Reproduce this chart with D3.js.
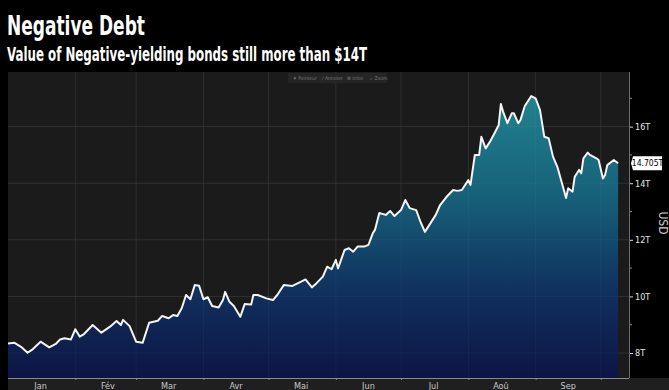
<!DOCTYPE html>
<html>
<head>
<meta charset="utf-8">
<script src="https://cdn.jsdelivr.net/npm/d3@7"></script>
<style>
  html, body { margin: 0; padding: 0; background: #000; }
  svg { display: block; }
</style>
</head>
<body>
<svg id="chart" width="669" height="390"></svg>
<script>
// ---- data ----
const dates = [
  "2019-01-01","2019-01-04","2019-01-07","2019-01-10","2019-01-12","2019-01-16","2019-01-20","2019-01-23","2019-01-25","2019-01-27","2019-01-30",
  "2019-02-01","2019-02-03","2019-02-05","2019-02-09","2019-02-13","2019-02-17","2019-02-20","2019-02-22","2019-02-23","2019-02-26",
  "2019-03-01","2019-03-04","2019-03-07","2019-03-11","2019-03-13","2019-03-16","2019-03-18","2019-03-20","2019-03-22","2019-03-24","2019-03-26","2019-03-28","2019-03-30",
  "2019-04-01","2019-04-03","2019-04-05","2019-04-08","2019-04-10","2019-04-11","2019-04-13","2019-04-15","2019-04-18","2019-04-20","2019-04-23","2019-04-24","2019-04-26","2019-04-30",
  "2019-05-03","2019-05-05","2019-05-08","2019-05-12","2019-05-16","2019-05-18","2019-05-21","2019-05-23","2019-05-26","2019-05-28","2019-05-30",
  "2019-06-01","2019-06-02","2019-06-05","2019-06-07","2019-06-09","2019-06-11","2019-06-14","2019-06-16","2019-06-18","2019-06-19","2019-06-21","2019-06-24","2019-06-26","2019-06-28",
  "2019-07-01","2019-07-03","2019-07-05","2019-07-08","2019-07-10","2019-07-12","2019-07-14","2019-07-17","2019-07-19","2019-07-22","2019-07-25","2019-07-27","2019-07-29",
  "2019-08-01","2019-08-02","2019-08-04","2019-08-06","2019-08-07","2019-08-09","2019-08-11","2019-08-13","2019-08-15","2019-08-16","2019-08-17","2019-08-19","2019-08-21","2019-08-22","2019-08-24","2019-08-25","2019-08-27","2019-08-30",
  "2019-09-01","2019-09-03","2019-09-05","2019-09-07","2019-09-09","2019-09-11","2019-09-14","2019-09-15","2019-09-16","2019-09-18","2019-09-19","2019-09-21","2019-09-22","2019-09-23","2019-09-25","2019-09-26","2019-09-29","2019-09-30",
  "2019-10-02","2019-10-03","2019-10-04","2019-10-07","2019-10-09"
];
const values = [
  8.34,8.36,8.22,8.01,8.11,8.40,8.20,8.32,8.48,8.52,8.48,
  8.84,8.58,8.67,8.99,8.72,8.93,9.13,8.99,9.17,8.95,
  8.40,8.36,9.07,9.14,9.31,9.23,9.34,9.31,9.58,10.05,9.90,10.40,10.38,
  9.90,9.97,9.66,9.61,9.87,10.16,9.81,9.66,9.28,9.73,9.71,10.05,10.05,9.93,
  9.87,10.05,10.40,10.37,10.52,10.60,10.32,10.46,10.70,11.05,10.96,
  11.29,10.99,11.64,11.70,11.58,11.76,11.76,11.82,12.23,12.35,12.95,12.88,13.02,12.84,
  13.05,13.41,13.12,13.05,12.63,12.28,12.52,12.88,13.23,13.52,13.76,13.73,13.76,
  14.11,13.94,15.00,15.00,15.64,15.23,15.47,15.76,16.06,16.80,16.53,16.12,16.47,16.47,16.12,16.23,16.73,17.08,
  17.00,16.59,15.64,15.59,14.94,14.58,13.76,13.48,13.82,13.70,14.23,14.47,14.35,14.88,15.08,15.00,14.88,14.82,
  14.17,14.29,14.64,14.82,14.705
];
const monthLabels = ["Jan","Fév","Mar","Avr","Mai","Jun","Jul","Aoû","Sep"];
const majorTicks = [8, 10, 12, 14, 16];
const minorTicks = [9, 11, 13, 15, 17];
const lastLabel = "14.705T";
const title = "Negative Debt";
const subtitle = "Value of Negative-yielding bonds still more than $14T";
const unitLabel = "USD";
const toolbarItems = [["\u2055","Pointeur"],["/","Annoter"],["\u229E","Infos"],["\u2315","Zoom"]];

// ---- layout ----
const W = 669, H = 390;
const L = 8, R = 629, T = 72, B = 378;
const parse = d3.timeParse("%Y-%m-%d");
const data = dates.map((d, i) => ({ date: parse(d), value: values[i] }));

const x = d3.scaleTime()
  .domain([parse("2019-01-01"), parse("2019-10-14")])
  .range([L, R]);
const y = d3.scaleLinear().domain([7.117, 17.93]).range([B, T]);

const svg = d3.select("#chart");
const condensed = "'Liberation Sans Narrow','DejaVu Sans Condensed','Roboto Condensed','Arial Narrow',sans-serif";

svg.append("rect").attr("width", W).attr("height", H).attr("fill", "#000");

// titles
svg.append("text").attr("x", 7).attr("y", 35)
  .attr("fill", "#fff").attr("font-family", condensed).attr("font-weight", "bold")
  .attr("font-size", 26).attr("textLength", 138).attr("lengthAdjust", "spacingAndGlyphs")
  .text(title);
svg.append("text").attr("x", 7).attr("y", 61)
  .attr("fill", "#fff").attr("font-family", condensed).attr("font-weight", "bold")
  .attr("font-size", 19).attr("textLength", 360).attr("lengthAdjust", "spacingAndGlyphs")
  .text(subtitle);

// plot background
svg.append("rect").attr("x", L).attr("y", T).attr("width", R - L).attr("height", B - T).attr("fill", "#1b1b1b");
// bottom strip
svg.append("rect").attr("x", L).attr("y", B).attr("width", W - L).attr("height", H - B).attr("fill", "#1f1f1f");

// gradient
const defs = svg.append("defs");
const grad = defs.append("linearGradient").attr("id", "areaGrad")
  .attr("gradientUnits", "userSpaceOnUse")
  .attr("x1", 0).attr("x2", 0).attr("y1", y(17.2)).attr("y2", B);
[[0, "#21838f"], [0.35, "#17627a"], [0.7, "#10305e"], [1, "#0d1545"]].forEach(([o, c]) =>
  grad.append("stop").attr("offset", o).attr("stop-color", c));

// gridlines
const monthStarts = d3.timeMonth.range(parse("2019-02-01"), parse("2019-10-02"));
svg.append("g").selectAll("line").data(monthStarts).join("line")
  .attr("x1", d => x(d)).attr("x2", d => x(d)).attr("y1", T).attr("y2", B)
  .attr("stroke", "#292929").attr("stroke-width", 1);
svg.append("g").selectAll("line").data(majorTicks).join("line")
  .attr("x1", L).attr("x2", R).attr("y1", d => y(d)).attr("y2", d => y(d))
  .attr("stroke", "#2b2b2b").attr("stroke-width", 1);

// area + line
const area = d3.area().x(d => x(d.date)).y0(B).y1(d => y(d.value));
const line = d3.line().x(d => x(d.date)).y(d => y(d.value));
svg.append("path").datum(data).attr("d", area).attr("fill", "url(#areaGrad)");
// gridlines faintly over area
svg.append("g").selectAll("line").data(monthStarts).join("line")
  .attr("x1", d => x(d)).attr("x2", d => x(d)).attr("y1", T).attr("y2", B)
  .attr("stroke", "#ffffff").attr("stroke-opacity", 0.035);
svg.append("g").selectAll("line").data(majorTicks).join("line")
  .attr("x1", L).attr("x2", R).attr("y1", d => y(d)).attr("y2", d => y(d))
  .attr("stroke", "#ffffff").attr("stroke-opacity", 0.035);
svg.append("path").datum(data).attr("d", line)
  .attr("fill", "none").attr("stroke", "#f4f4f4").attr("stroke-width", 2)
  .attr("stroke-linejoin", "round");

// borders
svg.append("line").attr("x1", L).attr("x2", R).attr("y1", B + 0.5).attr("y2", B + 0.5)
  .attr("stroke", "#8a8a8a").attr("stroke-width", 1);
svg.append("line").attr("x1", R + 0.5).attr("x2", R + 0.5).attr("y1", T).attr("y2", B)
  .attr("stroke", "#6e6e6e").attr("stroke-width", 1);

// x axis
const xAxis = d3.axisBottom(x).tickValues(monthStarts).tickSize(2).tickFormat("");
const gx = svg.append("g").attr("transform", `translate(0,${B})`).call(xAxis);
gx.select(".domain").remove();
gx.selectAll(".tick line").attr("stroke", "#8a8a8a");
const midMonths = monthLabels.map((m, i) => new Date(2019, i, 16));
svg.append("g").selectAll("text").data(midMonths).join("text")
  .attr("x", d => x(d)).attr("y", 389)
  .attr("text-anchor", "middle").attr("fill", "#c8c8c8")
  .attr("font-family", condensed).attr("font-size", 9)
  .text((d, i) => monthLabels[i]);

// y axis (right)
const yAxis = d3.axisRight(y).tickValues(majorTicks).tickSize(3).tickPadding(2).tickFormat(d => d + "T");
const gy = svg.append("g").attr("transform", `translate(${R + 1},0)`).call(yAxis);
gy.select(".domain").remove();
gy.selectAll(".tick line").attr("stroke", "#dddddd");
gy.selectAll(".tick text").attr("fill", "#e6e6e6").attr("font-family", condensed).attr("font-size", 9);
svg.append("g").selectAll("line").data(minorTicks).join("line")
  .attr("x1", R + 1).attr("x2", R + 3).attr("y1", d => y(d)).attr("y2", d => y(d))
  .attr("stroke", "#888");

// last value label
const lastV = values[values.length - 1];
const ly = y(lastV);
svg.append("path")
  .attr("d", `M${R + 2},${ly} L${R + 4},${ly - 7} L${R + 33},${ly - 7} L${R + 33},${ly + 7} L${R + 4},${ly + 7} Z`)
  .attr("fill", "#ffffff");
svg.append("text").attr("x", R + 18.5).attr("y", ly + 3)
  .attr("text-anchor", "middle").attr("fill", "#000")
  .attr("font-family", condensed).attr("font-size", 8.5)
  .text(lastLabel);

// unit label
svg.append("text").attr("transform", `translate(659,223) rotate(90)`)
  .attr("text-anchor", "middle").attr("fill", "#cfcfcf")
  .attr("font-family", condensed).attr("font-size", 12)
  .text(unitLabel);

// toolbar
const tb = svg.append("g");
tb.append("rect").attr("x", 288).attr("y", 73).attr("width", 99).attr("height", 10).attr("fill", "#252525");
const tbX = [293, 322, 347, 370];
toolbarItems.forEach(([icon, label], i) => {
  tb.append("text").attr("x", tbX[i]).attr("y", 80).attr("fill", "#7a7a7a")
    .attr("font-family", condensed).attr("font-size", 5).text(icon + " " + label);
});
</script>
</body>
</html>
